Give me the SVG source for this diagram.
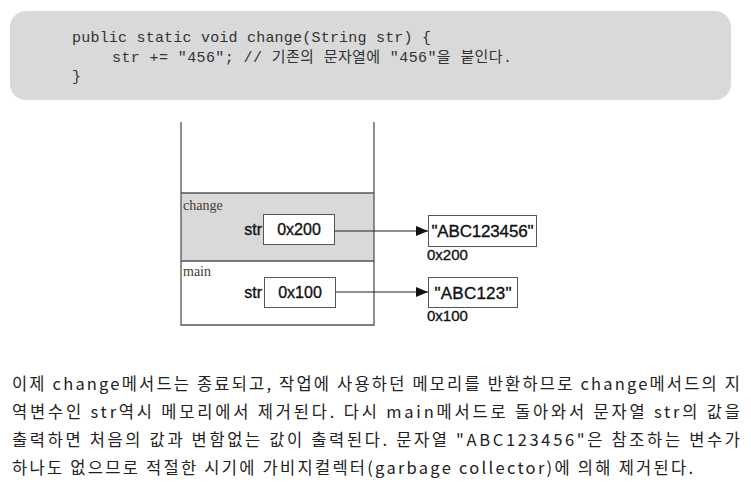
<svg xmlns="http://www.w3.org/2000/svg" width="751" height="482" viewBox="0 0 751 482">
<defs>
<style>
.code{font-family:"Liberation Mono","Noto Sans CJK KR",monospace;font-size:15px;fill:#333}
.frame{font-family:"Liberation Serif",serif;font-size:14px;fill:#4a3a2c}
.lbl{font-family:"Liberation Sans",Arial,sans-serif;fill:#111;stroke:#111;stroke-width:0.35}
.box{fill:#fff;stroke:#555;stroke-width:1}
.stack{fill:none;stroke:#555;stroke-width:1.3}
.conn{stroke:#222;stroke-width:1;fill:none;marker-end:url(#arr)}
.para{font-family:"Noto Sans CJK KR","Liberation Sans",sans-serif;font-size:16.5px;fill:#222}
</style>
<marker id="arr" markerWidth="12" markerHeight="10" refX="12" refY="5" orient="auto" markerUnits="userSpaceOnUse">
<path d="M0,0 L12,5 L0,10 Z" fill="#111"/>
</marker>
</defs>
<g id="code">
<rect x="10" y="11" width="721" height="89" rx="16" fill="#d9d9d9"/>
<text class="code" x="72" y="42" textLength="359">public static void change(String str) {</text>
<text class="code" x="112" y="62" textLength="400">str += "456"; // 기존의 문자열에 "456"을 붙인다.</text>
<text class="code" x="72" y="81">}</text>
</g>
<g id="stack">
<rect x="181" y="193" width="193" height="68" fill="#d9d9d9"/>
<path class="stack" d="M181,122 V325 H374 V122 M181,193 H374 M181,261 H374"/>
<text class="frame" x="183" y="210">change</text>
<text class="frame" x="183" y="276">main</text>
</g>
<g id="var-change-str">
<text class="lbl" x="262" y="235" font-size="16" text-anchor="end">str</text>
<rect class="box" x="263.5" y="214.5" width="71" height="30"/>
<text class="lbl" x="299" y="235" font-size="16" text-anchor="middle">0x200</text>
</g>
<g id="var-main-str">
<text class="lbl" x="262" y="298" font-size="16" text-anchor="end">str</text>
<rect class="box" x="264.5" y="277.5" width="71" height="30"/>
<text class="lbl" x="300" y="298" font-size="16" text-anchor="middle">0x100</text>
</g>
<g id="obj-200">
<rect class="box" x="428.5" y="215.5" width="108" height="31"/>
<text class="lbl" x="482.5" y="237" font-size="17" text-anchor="middle" textLength="102">"ABC123456"</text>
<text class="lbl" x="427" y="260" font-size="15">0x200</text>
</g>
<g id="obj-100">
<rect class="box" x="428.5" y="277.5" width="89" height="30"/>
<text class="lbl" x="473" y="299" font-size="17" text-anchor="middle" textLength="77">"ABC123"</text>
<text class="lbl" x="427" y="321" font-size="15">0x100</text>
</g>
<g id="connectors">
<line class="conn" x1="335" y1="231" x2="428" y2="231"/>
<line class="conn" x1="336" y1="292" x2="428" y2="292"/>
</g>
<g id="paragraph">
<text class="para" x="12" y="390" textLength="728">이제 change메서드는 종료되고, 작업에 사용하던 메모리를 반환하므로 change메서드의 지</text>
<text class="para" x="12" y="418" textLength="728">역변수인 str역시 메모리에서 제거된다. 다시 main메서드로 돌아와서 문자열 str의 값을</text>
<text class="para" x="12" y="446" textLength="728">출력하면 처음의 값과 변함없는 값이 출력된다. 문자열 "ABC123456"은 참조하는 변수가</text>
<text class="para" x="12" y="474" textLength="681">하나도 없으므로 적절한 시기에 가비지컬렉터(garbage collector)에 의해 제거된다.</text>
</g>
</svg>
